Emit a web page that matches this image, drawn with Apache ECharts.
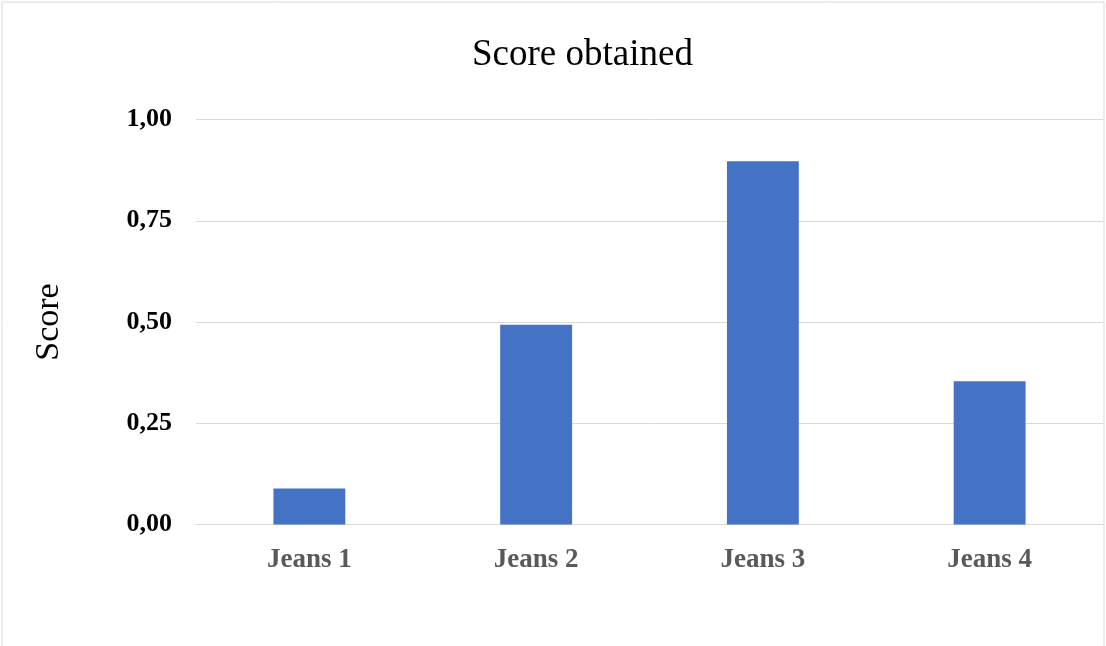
<!DOCTYPE html>
<html>
<head>
<meta charset="utf-8">
<script src="https://cdn.jsdelivr.net/npm/echarts@6/dist/echarts.min.js"></script>
<style>
  html, body { margin: 0; padding: 0; background: #fff; }
  #chart { width: 1106px; height: 646px; }
</style>
</head>
<body>
<div id="chart"></div>
<script>
// Score per jeans model
const categories = ['Jeans 1', 'Jeans 2', 'Jeans 3', 'Jeans 4'];
const scores = [0.089, 0.493, 0.897, 0.354];
const yTicks = { min: 0, max: 1, interval: 0.25 };

const serif = '"Liberation Serif", "Times New Roman", serif';

const chart = echarts.init(document.getElementById('chart'), null, { renderer: 'canvas' });
chart.setOption({
  backgroundColor: '#ffffff',
  animation: false,
  title: {
    text: 'Score obtained',
    left: 472,
    top: 37,
    padding: 0,
    textStyle: { fontFamily: serif, fontSize: 37, fontWeight: 'normal', color: '#000000' }
  },
  graphic: [{
    type: 'rect',
    shape: { x: 2, y: 2, width: 1102, height: 700 },
    style: { fill: 'none', stroke: '#d9d9d9', lineWidth: 1 },
    silent: true
  }],
  grid: { left: 196, right: 3, top: 119.5, bottom: 121.5, containLabel: false },
  xAxis: {
    type: 'category',
    data: categories,
    axisLine: { show: true, lineStyle: { color: '#d9d9d9', width: 1 } },
    axisTick: { show: false },
    axisLabel: {
      margin: 22,
      fontFamily: serif, fontSize: 27, fontWeight: 'bold', color: '#595959'
    }
  },
  yAxis: {
    type: 'value',
    min: yTicks.min, max: yTicks.max, interval: yTicks.interval,
    name: 'Score',
    nameLocation: 'middle',
    nameGap: 130,
    nameRotate: 90,
    nameTextStyle: { fontFamily: serif, fontSize: 34, color: '#000000' },
    axisLine: { show: false },
    axisTick: { show: false },
    splitLine: { lineStyle: { color: '#d9d9d9', width: 1 } },
    axisLabel: {
      margin: 24,
      padding: [3, 0, 0, 0],
      fontFamily: serif, fontSize: 26, fontWeight: 'bold', color: '#000000',
      formatter: v => v.toFixed(2).replace('.', ',')
    }
  },
  series: [{
    type: 'bar',
    data: scores,
    barWidth: '31.7%',
    itemStyle: { color: '#4472C4' }
  }]
});
</script>
</body>
</html>
